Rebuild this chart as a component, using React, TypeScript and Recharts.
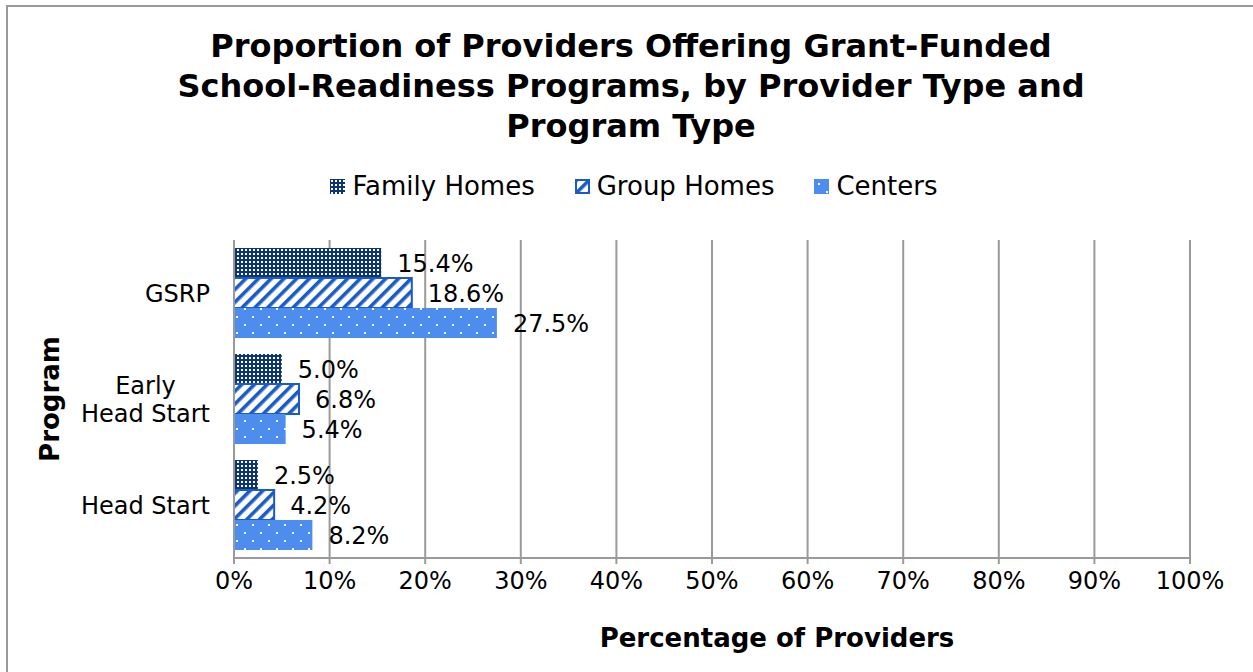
import React from "react";
import {
  BarChart,
  Bar,
  XAxis,
  YAxis,
  CartesianGrid,
  LabelList,
} from "recharts";

const programs = ["GSRP", "Early\nHead Start", "Head Start"];
const familyHomes = [15.4, 5.0, 2.5];
const groupHomes = [18.6, 6.8, 4.2];
const centers = [27.5, 5.4, 8.2];
const xTicks = [0, 10, 20, 30, 40, 50, 60, 70, 80, 90, 100];
const seriesNames = ["Family Homes", "Group Homes", "Centers"];
const titleLines = [
  "Proportion of Providers Offering Grant-Funded",
  "School-Readiness Programs, by Provider Type and",
  "Program Type",
];

const data = programs.map((p, i) => ({
  program: p,
  family: familyHomes[i],
  group: groupHomes[i],
  centers: centers[i],
}));

const FONT = '"DejaVu Sans", Verdana, sans-serif';
const NAVY = "#0D3671";
const STRIPE = "#1B5BC7";
const LIGHT = "#4C8DEF";
const GRID = "#9a9a9a";

let ctx: CanvasRenderingContext2D | null = null;
const measure = (t: string, font: string) => {
  if (!ctx) ctx = document.createElement("canvas").getContext("2d");
  if (!ctx) return t.length * 12;
  ctx.font = font;
  return ctx.measureText(t).width;
};

const ProgramTick = (props: any) => {
  const { x, y, payload } = props;
  const lines = String(payload.value).split("\n");
  const lh = 28;
  const widths = lines.map((l) => measure(l, `24px ${FONT}`));
  const maxW = Math.max(...widths);
  const cx = x - maxW / 2;
  const y0 = y - ((lines.length - 1) * lh) / 2;
  return (
    <text textAnchor="middle" fontSize={24} fontFamily={FONT} fill="#000">
      {lines.map((l, i) => (
        <tspan key={i} x={cx} y={y0 + i * lh} dy="0.36em">
          {l}
        </tspan>
      ))}
    </text>
  );
};

const fmtPct = (v: any) => `${Number(v).toFixed(1)}%`;

const legendFills = ["url(#patFamily)", "url(#patGroup)", "url(#patCenters)"];

export default function App() {
  return (
    <div
      style={{
        position: "fixed",
        left: 0,
        top: 0,
        width: 1253,
        height: 672,
        overflow: "hidden",
        background: "#fff",
        fontFamily: FONT,
      }}
    >
      <svg width={0} height={0} style={{ position: "absolute" }}>
        <defs>
          <pattern id="patFamily" width={4} height={4} patternUnits="userSpaceOnUse">
            <rect width={4} height={4} fill={NAVY} />
            <rect x={1} y={1} width={2} height={2} fill="#fff" />
          </pattern>
          <pattern
            id="patGroup"
            width={9}
            height={9}
            patternUnits="userSpaceOnUse"
            patternTransform="rotate(45)"
          >
            <rect width={9} height={9} fill="#fff" />
            <rect width={3.6} height={9} fill={STRIPE} />
          </pattern>
          <pattern id="patCenters" width={16} height={16} patternUnits="userSpaceOnUse">
            <rect width={16} height={16} fill={LIGHT} />
            <rect x={4} y={4} width={2} height={2} fill="#fff" />
            <rect x={12} y={12} width={2} height={2} fill="#fff" />
          </pattern>
        </defs>
      </svg>

      <div
        style={{
          position: "absolute",
          left: 6,
          top: 5,
          width: 1300,
          height: 700,
          border: `2px solid ${GRID}`,
          boxSizing: "border-box",
        }}
      />

      <div
        style={{
          position: "absolute",
          left: 0,
          top: 26,
          width: 1262,
          textAlign: "center",
          fontWeight: "bold",
          fontSize: 32,
          lineHeight: "40px",
          color: "#000",
        }}
      >
        {titleLines.map((l, i) => (
          <div key={i}>{l}</div>
        ))}
      </div>

      <div
        style={{
          position: "absolute",
          left: 0,
          top: 170,
          width: 1268,
          height: 32,
          display: "flex",
          justifyContent: "center",
          alignItems: "center",
          fontSize: 26,
          color: "#000",
        }}
      >
        {seriesNames.map((n, i) => (
          <div
            key={n}
            style={{ display: "flex", alignItems: "center", marginRight: i < 2 ? 40 : 0 }}
          >
            <svg width={15} height={15} style={{ marginRight: 7 }}>
              <rect
                x={i === 1 ? 1 : 0}
                y={i === 1 ? 1 : 0}
                width={i === 1 ? 13 : 15}
                height={i === 1 ? 13 : 15}
                fill={legendFills[i]}
                stroke={i === 1 ? STRIPE : "none"}
                strokeWidth={2}
              />
            </svg>
            <span>{n}</span>
          </div>
        ))}
      </div>

      <div style={{ position: "absolute", left: 0, top: 0 }}>
        <BarChart
          width={1253}
          height={672}
          data={data}
          layout="vertical"
          margin={{ top: 240, right: 63, bottom: 0, left: 0 }}
          barSize={30}
          barGap={0}
        >
          <CartesianGrid
            vertical={true}
            horizontal={false}
            stroke={GRID}
            strokeWidth={2}
          />
          <XAxis
            type="number"
            domain={[0, 100]}
            ticks={xTicks}
            interval={0}
            tickFormatter={(v: number) => `${v}%`}
            height={114}
            axisLine={{ stroke: GRID, strokeWidth: 2 }}
            tickLine={{ stroke: GRID, strokeWidth: 2 }}
            tickSize={6}
            tickMargin={8}
            tick={{ fontSize: 24, fontFamily: FONT, fill: "#000" }}
            label={{
              value: "Percentage of Providers",
              position: "insideBottom",
              offset: 25,
              dx: 65,
              style: { fontSize: 26, fontWeight: "bold", fontFamily: FONT, fill: "#000" },
            }}
          />
          <YAxis
            type="category"
            dataKey="program"
            width={234}
            axisLine={{ stroke: GRID, strokeWidth: 2 }}
            tickLine={false}
            tickSize={0}
            tickMargin={24}
            tick={<ProgramTick />}
            label={{
              value: "Program",
              angle: -90,
              position: "insideLeft",
              offset: 50,
              style: {
                fontSize: 26,
                fontWeight: "bold",
                fontFamily: FONT,
                fill: "#000",
                textAnchor: "middle",
              },
            }}
          />
          <Bar dataKey="family" name="Family Homes" fill="url(#patFamily)" isAnimationActive={false}>
            <LabelList
              dataKey="family"
              position="right"
              offset={16}
              formatter={fmtPct}
              style={{ fontSize: 24, fontFamily: FONT, fill: "#000" }}
            />
          </Bar>
          <Bar
            dataKey="group"
            name="Group Homes"
            fill="url(#patGroup)"
            stroke={STRIPE}
            strokeWidth={2}
            isAnimationActive={false}
          >
            <LabelList
              dataKey="group"
              position="right"
              offset={16}
              formatter={fmtPct}
              style={{ fontSize: 24, fontFamily: FONT, fill: "#000" }}
            />
          </Bar>
          <Bar dataKey="centers" name="Centers" fill="url(#patCenters)" isAnimationActive={false}>
            <LabelList
              dataKey="centers"
              position="right"
              offset={16}
              formatter={fmtPct}
              style={{ fontSize: 24, fontFamily: FONT, fill: "#000" }}
            />
          </Bar>
        </BarChart>
      </div>
    </div>
  );
}
